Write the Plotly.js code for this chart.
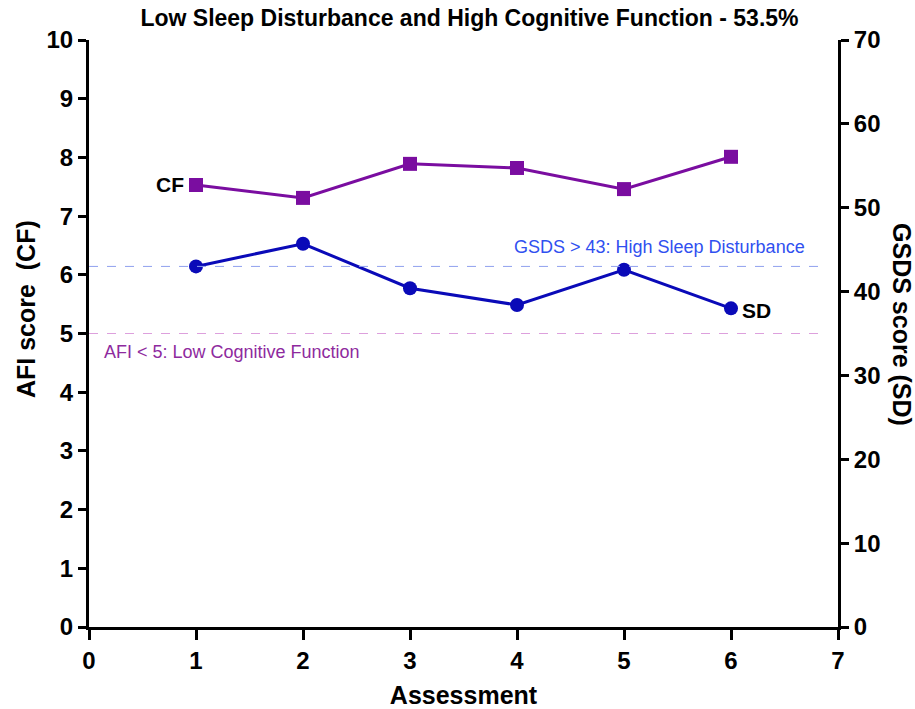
<!DOCTYPE html>
<html><head><meta charset="utf-8">
<script src="https://cdn.plot.ly/plotly-3.0.1.min.js"></script>
<style>body{margin:0;background:#fff}#chart{width:915px;height:709px}</style>
</head><body><div id="chart"></div>
<script>
const assessments = [1, 2, 3, 4, 5, 6];
const cfScores = [7.53, 7.31, 7.89, 7.82, 7.46, 8.01];
const sdScores = [43.0, 45.7, 40.4, 38.4, 42.6, 38.0];
const xTicks = [0, 1, 2, 3, 4, 5, 6, 7];
const cfThreshold = 5;
const sdThreshold = 43;

const FAM = '"Liberation Sans", Arial, sans-serif';
const tickFont = {family: FAM, size: 24, color: '#000', weight: 'bold'};
const titleFont = {family: FAM, size: 25, color: '#000', weight: 'bold'};

const traces = [
  {x: assessments, y: cfScores, type: 'scatter', mode: 'lines+markers', yaxis: 'y',
   line: {color: '#7A0DA0', width: 3}, marker: {symbol: 'square', size: 14, color: '#7A0DA0'}, showlegend: false},
  {x: assessments, y: sdScores, type: 'scatter', mode: 'lines+markers', yaxis: 'y2',
   line: {color: '#0A0AB8', width: 3}, marker: {symbol: 'circle', size: 14, color: '#0A0AB8'}, showlegend: false}
];

const layout = {
  width: 915, height: 709,
  margin: {l: 89, r: 77, t: 40, b: 82},
  paper_bgcolor: '#fff', plot_bgcolor: '#fff',
  title: {text: 'Low Sleep Disturbance and High Cognitive Function - 53.5%', x: 0.508, xref: 'paper', y: 0.975, yanchor: 'middle',
          font: {family: FAM, size: 23, color: '#000', weight: 'bold'}},
  xaxis: {range: [0, 7], tickvals: xTicks, showgrid: false, zeroline: false, showline: true, linewidth: 3, linecolor: '#000',
          ticks: 'outside', ticklen: 10, tickwidth: 3, tickcolor: '#000', tickfont: tickFont,
          title: {text: 'Assessment', font: titleFont, standoff: 14}},
  yaxis: {range: [0, 10], dtick: 1, showgrid: false, zeroline: false, showline: true, linewidth: 3, linecolor: '#000',
          ticks: 'outside', ticklen: 8, tickwidth: 3, tickcolor: '#000', tickfont: tickFont},
  yaxis2: {range: [0, 70], dtick: 10, overlaying: 'y', side: 'right', showgrid: false, zeroline: false, showline: true,
           linewidth: 3, linecolor: '#000', ticks: 'outside', ticklen: 8, tickwidth: 3, tickcolor: '#000', tickfont: tickFont},
  shapes: [
    {type: 'line', xref: 'paper', x0: 0, x1: 0.985, yref: 'y2', y0: sdThreshold, y1: sdThreshold,
     line: {color: '#8FA0EE', width: 1, dash: 'dash'}},
    {type: 'line', xref: 'paper', x0: 0, x1: 0.985, yref: 'y', y0: cfThreshold, y1: cfThreshold,
     line: {color: '#DDA0DD', width: 1, dash: 'dash'}}
  ],
  annotations: [
    {text: 'CF', x: assessments[0], y: cfScores[0], xref: 'x', yref: 'y', xanchor: 'right', xshift: -10, showarrow: false,
     font: {family: FAM, size: 21, color: '#000', weight: 'bold'}},
    {text: 'SD', x: assessments[5], y: sdScores[5], xref: 'x', yref: 'y2', xanchor: 'left', xshift: 9, yshift: -2, showarrow: false,
     font: {family: FAM, size: 21, color: '#000', weight: 'bold'}},
    {text: 'GSDS > 43: High Sleep Disturbance', x: 0.958, xref: 'paper', xanchor: 'right', y: sdThreshold, yref: 'y2', yanchor: 'bottom', yshift: 7,
     showarrow: false, font: {family: FAM, size: 18, color: '#3050F0'}},
    {text: 'AFI < 5: Low Cognitive Function', x: 0.018, xref: 'paper', xanchor: 'left', y: cfThreshold, yref: 'y', yanchor: 'top', yshift: -6,
     showarrow: false, font: {family: FAM, size: 18, color: '#8E2A9E'}},
    {text: 'AFI score  (CF)', textangle: -90, x: -0.0841, xref: 'paper', xanchor: 'center', y: 0.5417, yref: 'paper', yanchor: 'middle',
     showarrow: false, font: titleFont},
    {text: 'GSDS score (SD)', textangle: 90, x: 1.0854, xref: 'paper', xanchor: 'center', y: 0.5145, yref: 'paper', yanchor: 'middle',
     showarrow: false, font: titleFont}
  ]
};

Plotly.newPlot('chart', traces, layout, {displayModeBar: false, staticPlot: true});
</script></body></html>
